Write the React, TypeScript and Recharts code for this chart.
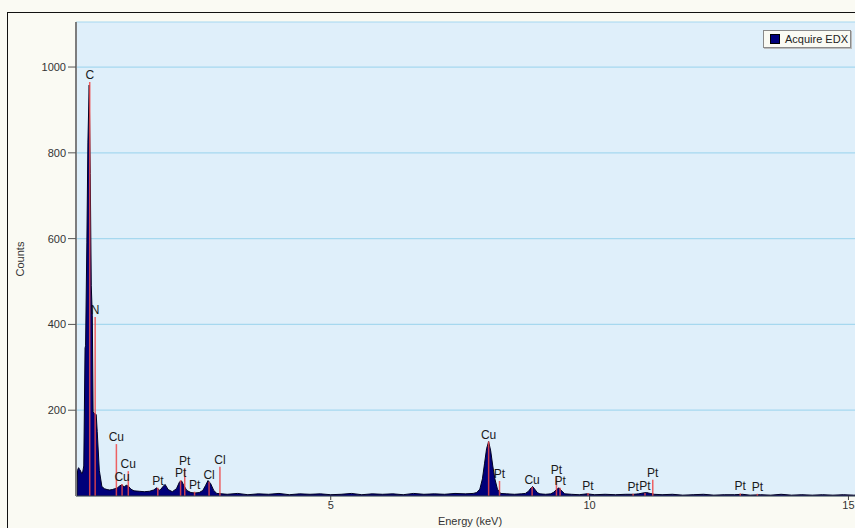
import {
  ComposedChart,
  Area,
  XAxis,
  YAxis,
  CartesianGrid,
  ReferenceLine,
} from 'recharts'

// EDX spectrum (keV, counts)
const energyKeV = [
  0.1, 0.11, 0.13, 0.15, 0.17, 0.19, 0.21, 0.23, 0.255, 0.265, 0.29, 0.31, 0.335, 0.355, 0.375, 0.395, 0.41,
  0.44, 0.47, 0.49, 0.53, 0.58, 0.63, 0.68, 0.73, 0.78, 0.83, 0.88, 0.93, 0.97, 1.01, 1.05,
  1.09, 1.14, 1.2, 1.3, 1.4, 1.5, 1.58, 1.64, 1.7, 1.76, 1.8, 1.86, 1.94, 2.02, 2.08, 2.12,
  2.16, 2.22, 2.3, 2.38, 2.46, 2.53, 2.58, 2.63, 2.68, 2.74, 2.8, 2.9,
  3.0, 3.2, 3.4, 3.6, 3.8, 4.0, 4.2, 4.4, 4.6, 4.8, 5.0, 5.2, 5.4, 5.6, 5.8, 6.0, 6.2, 6.4,
  6.6, 6.8, 7.0, 7.2, 7.4, 7.6, 7.75,
  7.82, 7.88, 7.93, 7.97, 8.01, 8.05, 8.09, 8.13, 8.17, 8.22, 8.28,
  8.4, 8.55, 8.68, 8.76, 8.82, 8.87, 8.9, 8.94, 8.99, 9.04, 9.15, 9.25, 9.31, 9.36, 9.41,
  9.46, 9.52, 9.65, 9.8, 9.95, 10.1, 10.3, 10.5, 10.7, 10.85, 10.95, 11.03, 11.1, 11.17,
  11.25, 11.4, 11.6, 11.8, 12.0, 12.2, 12.4, 12.6, 12.8, 12.95, 13.1, 13.3, 13.5, 13.7,
  13.9, 14.1, 14.3, 14.5, 14.7, 14.9, 15.1, 15.3,
]
const counts = [
  0, 60, 66, 62, 58, 52, 56, 70, 345, 350, 590, 825, 958, 752, 490, 420, 196,
  192, 190, 150, 60, 22, 17, 15, 14, 15, 17, 19, 24, 26, 21, 25,
  23, 16, 12, 11, 10, 11, 14, 19, 13, 22, 27, 15, 10, 17, 33, 35,
  25, 13, 8, 7, 8, 13, 24, 36, 29, 13, 6, 5,
  4, 6, 3, 5, 4, 6, 3, 5, 4, 5, 3, 4, 6, 3, 5, 4, 5, 3,
  6, 4, 5, 4, 6, 5, 6,
  8, 16, 40, 75, 110, 127, 105, 70, 40, 16, 6,
  5, 4, 5, 6, 11, 19, 22, 16, 8, 5, 4, 5, 9, 15, 19,
  12, 5, 4, 3, 5, 3, 4, 3, 4, 4, 5, 7, 8, 6,
  4, 3, 4, 2, 3, 4, 2, 3, 3, 4, 2, 3, 2, 4,
  2, 3, 2, 3, 2, 3, 2, 2,
]

// element marker lines
const markerKeV = [
  0.345, 0.45, 0.86, 0.97, 1.09, 1.66, 2.1, 2.18, 2.37, 2.65, 2.86,
  8.05, 8.26, 8.89, 9.36, 9.43, 9.97, 10.84, 11.07, 11.22, 12.91, 13.24,
]
const markerCounts = [
  965, 417, 121, 28, 58, 19, 37, 65, 10, 33, 68,
  127, 35, 21, 44, 19, 7, 5, 7, 38, 6, 5,
]
const markerLabels = [
  'C', 'N', 'Cu', 'Cu', 'Cu', 'Pt', 'Pt', 'Pt', 'Pt', 'Cl', 'Cl',
  'Cu', 'Pt', 'Cu', 'Pt', 'Pt', 'Pt', 'Pt', 'Pt', 'Pt', 'Pt', 'Pt',
]

const xTicks = [5, 10, 15]
const yTicks = [200, 400, 600, 800, 1000]

const data = energyKeV.map((e, i) => ({ energy: e, counts: counts[i] }))

const FONT = '"Liberation Sans", Arial, sans-serif'

export default function App() {
  return (
    <div
      style={{
        position: 'absolute',
        left: 0,
        top: 0,
        width: 855,
        height: 528,
        overflow: 'hidden',
        background: '#fafaf3',
        fontFamily: FONT,
      }}
    >
      {/* outer frame */}
      <div
        style={{
          position: 'absolute',
          left: 7,
          top: 12,
          width: 900,
          height: 600,
          border: '1px solid #111',
        }}
      />
      <div style={{ position: 'absolute', left: 0, top: 0 }}>
        <ComposedChart
          width={900}
          height={528}
          data={data}
          margin={{ top: 22, right: 36, left: 16, bottom: 2 }}
        >
          <CartesianGrid
            horizontal
            vertical={false}
            fill="#dfeffa"
            stroke="#a6d8ef"
            strokeWidth={1.2}
          />
          <XAxis
            dataKey="energy"
            type="number"
            domain={[0.08, 15.3]}
            allowDataOverflow
            ticks={xTicks}
            height={30}
            tickSize={4}
            tickMargin={1}
            stroke="#444"
            tick={{ fill: '#333', fontSize: 11, fontFamily: FONT }}
            label={{ value: 'Energy (keV)', position: 'insideBottom', offset: 1, fill: '#333', fontSize: 11, fontFamily: FONT }}
          />
          <XAxis
            xAxisId="top"
            orientation="top"
            dataKey="energy"
            type="number"
            domain={[0.08, 15.3]}
            height={0}
            tick={false}
            tickLine={false}
            axisLine={{ stroke: '#7d7d7d', strokeWidth: 2 }}
          />
          <YAxis
            domain={[0, 1105]}
            ticks={yTicks}
            width={60}
            tickSize={8}
            tickMargin={2}
            axisLine={{ stroke: '#7d7d7d', strokeWidth: 2 }}
            tickLine={{ stroke: '#555' }}
            tick={{ fill: '#333', fontSize: 11, fontFamily: FONT }}
            label={{
              content: (props: any) => {
                const vb = props.viewBox
                const cx = vb.x + 4
                const cy = vb.y + vb.height / 2
                return (
                  <text
                    x={cx}
                    y={cy}
                    transform={`rotate(-90 ${cx} ${cy})`}
                    textAnchor="middle"
                    dominantBaseline="central"
                    fill="#333"
                    fontSize={11}
                    fontFamily={FONT}
                  >
                    Counts
                  </text>
                )
              },
            }}
          />
          <Area
            type="linear"
            dataKey="counts"
            fill="#00007a"
            fillOpacity={1}
            stroke="#000022"
            strokeWidth={1}
            isAnimationActive={false}
            dot={false}
            activeDot={false}
          />
          {markerKeV.map((e, i) => (
            <ReferenceLine
              key={i}
              segment={[
                { x: e, y: 0 },
                { x: e, y: markerCounts[i] },
              ]}
              stroke="#f04848"
              strokeOpacity={0.85}
              strokeWidth={1.5}
              label={{
                value: markerLabels[i],
                position: 'top',
                offset: 3,
                fill: '#1a1a1a',
                fontSize: 12,
                fontFamily: FONT,
              }}
            />
          ))}
        </ComposedChart>
      </div>
      {/* legend */}
      <div
        style={{
          position: 'absolute',
          left: 763,
          top: 30,
          width: 86,
          height: 16,
          border: '1px solid #8a8a8a',
          background: '#fafaf3',
          display: 'flex',
          alignItems: 'center',
          fontSize: 11,
          color: '#222',
          boxShadow: '1px 1px 0 #bbb',
        }}
      >
        <span
          style={{
            display: 'inline-block',
            width: 8,
            height: 8,
            background: '#00007a',
            border: '1px solid #000',
            marginLeft: 6,
            marginRight: 5,
          }}
        />
        Acquire EDX
      </div>
    </div>
  )
}
